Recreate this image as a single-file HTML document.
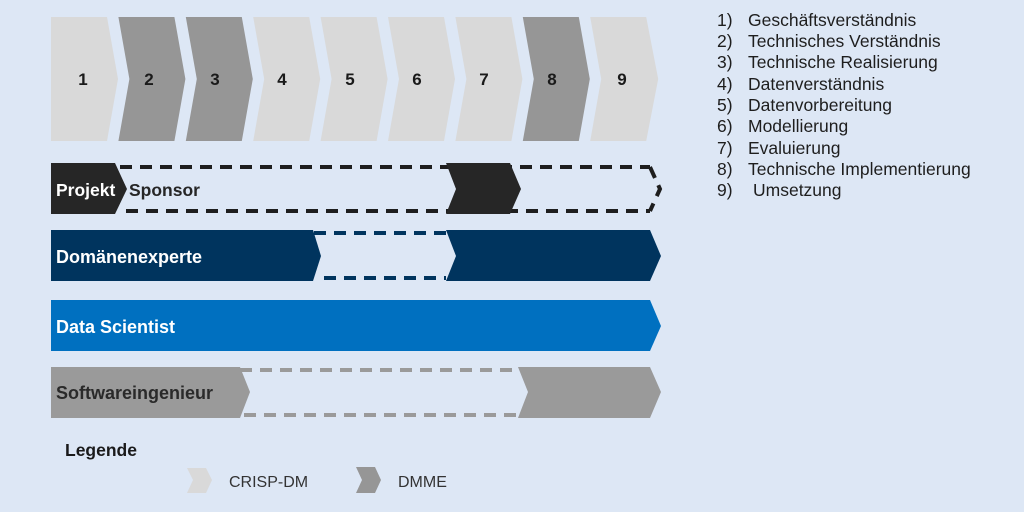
<!DOCTYPE html>
<html><head><meta charset="utf-8"><style>
html,body{margin:0;padding:0;background:#dde7f5;}
svg{display:block;}
text{font-family:"Liberation Sans",sans-serif;}
</style></head><body>
<svg width="1024" height="512" viewBox="0 0 1024 512" xmlns="http://www.w3.org/2000/svg">
<rect width="1024" height="512" fill="#dde7f5"/>
<g font-weight="bold" font-size="17" fill="#1a1a1a" text-anchor="middle">
<polygon points="51,17 107,17 118,79 107,141 51,141" fill="#d9d9d9"/>
<polygon points="118.4,17 174.4,17 185.4,79 174.4,141 118.4,141 129.4,79" fill="#969696"/>
<polygon points="185.8,17 241.8,17 252.8,79 241.8,141 185.8,141 196.8,79" fill="#969696"/>
<polygon points="253.2,17 309.2,17 320.2,79 309.2,141 253.2,141 264.2,79" fill="#d9d9d9"/>
<polygon points="320.6,17 376.6,17 387.6,79 376.6,141 320.6,141 331.6,79" fill="#d9d9d9"/>
<polygon points="388,17 444,17 455,79 444,141 388,141 399,79" fill="#d9d9d9"/>
<polygon points="455.4,17 511.4,17 522.4,79 511.4,141 455.4,141 466.4,79" fill="#d9d9d9"/>
<polygon points="522.8,17 578.8,17 589.8,79 578.8,141 522.8,141 533.8,79" fill="#969696"/>
<polygon points="590.2,17 646.2,17 658.2,79 646.2,141 590.2,141 601.2,79" fill="#d9d9d9"/>
<text x="83" y="85">1</text><text x="149" y="85">2</text><text x="215" y="85">3</text>
<text x="282" y="85">4</text><text x="350" y="85">5</text><text x="417" y="85">6</text>
<text x="484" y="85">7</text><text x="552" y="85">8</text><text x="622" y="85">9</text>
</g>
<!-- Sponsor -->
<g stroke="#1e1e1e" stroke-width="4" stroke-dasharray="12,8" fill="none">
<line x1="120" y1="167" x2="650" y2="167"/>
<line x1="126" y1="211" x2="650" y2="211"/>
<polyline points="650,167 660,189 650,211"/>
</g>
<polygon points="51,163 115,163 127,189 115,214 51,214" fill="#262626"/>
<polygon points="446,163 510,163 521,189 510,214 446,214 456,189" fill="#262626"/>
<text x="56" y="196" font-size="17.5" font-weight="bold" fill="#fff">Projekt</text>
<text x="129" y="196" font-size="17.5" font-weight="bold" fill="#262626">Sponsor</text>
<!-- Domänenexperte -->
<g stroke="#00345e" stroke-width="4" stroke-dasharray="12,8">
<line x1="314" y1="233" x2="446" y2="233"/>
<line x1="324" y1="278" x2="446" y2="278"/>
</g>
<polygon points="51,230 313,230 321,256 313,281 51,281" fill="#00345e"/>
<polygon points="446,230 650,230 661,256 650,281 446,281 456,256" fill="#00345e"/>
<text x="56" y="263" font-size="18" font-weight="bold" fill="#fff">Domänenexperte</text>
<!-- Data Scientist -->
<polygon points="51,300 650,300 661,326 650,351 51,351" fill="#0070c0"/>
<text x="56" y="333" font-size="18" font-weight="bold" fill="#fff">Data Scientist</text>
<!-- Software -->
<g stroke="#9a9a9a" stroke-width="4" stroke-dasharray="12,8">
<line x1="240" y1="370" x2="518" y2="370"/>
<line x1="244" y1="415" x2="518" y2="415"/>
</g>
<polygon points="51,367 240,367 250,392 240,418 51,418" fill="#9a9a9a"/>
<polygon points="518,367 650,367 661,392 650,418 518,418 528,392" fill="#9a9a9a"/>
<text x="56" y="399" font-size="18" font-weight="bold" fill="#2a2a2a">Softwareingenieur</text>
<!-- Legend -->
<text x="65" y="456" font-size="17.5" font-weight="bold" fill="#1a1a1a">Legende</text>
<polygon points="187,468 206,468 212,480 206,493 187,493 193,480" fill="#d9d9d9"/>
<text x="229" y="487" font-size="16" fill="#333">CRISP-DM</text>
<polygon points="356,467 375,467 381,480 375,493 356,493 362,480" fill="#969696"/>
<text x="398" y="487" font-size="16" fill="#333">DMME</text>
<!-- List -->
<g font-size="17.5" fill="#1e1e1e">
<text x="717" y="26">1)</text><text x="748" y="26">Geschäftsverständnis</text>
<text x="717" y="47">2)</text><text x="748" y="47">Technisches Verständnis</text>
<text x="717" y="68">3)</text><text x="748" y="68">Technische Realisierung</text>
<text x="717" y="90">4)</text><text x="748" y="90">Datenverständnis</text>
<text x="717" y="111">5)</text><text x="748" y="111">Datenvorbereitung</text>
<text x="717" y="132">6)</text><text x="748" y="132">Modellierung</text>
<text x="717" y="154">7)</text><text x="748" y="154">Evaluierung</text>
<text x="717" y="175">8)</text><text x="748" y="175">Technische Implementierung</text>
<text x="717" y="196">9)</text><text x="753" y="196">Umsetzung</text>
</g>
</svg>
</body></html>
